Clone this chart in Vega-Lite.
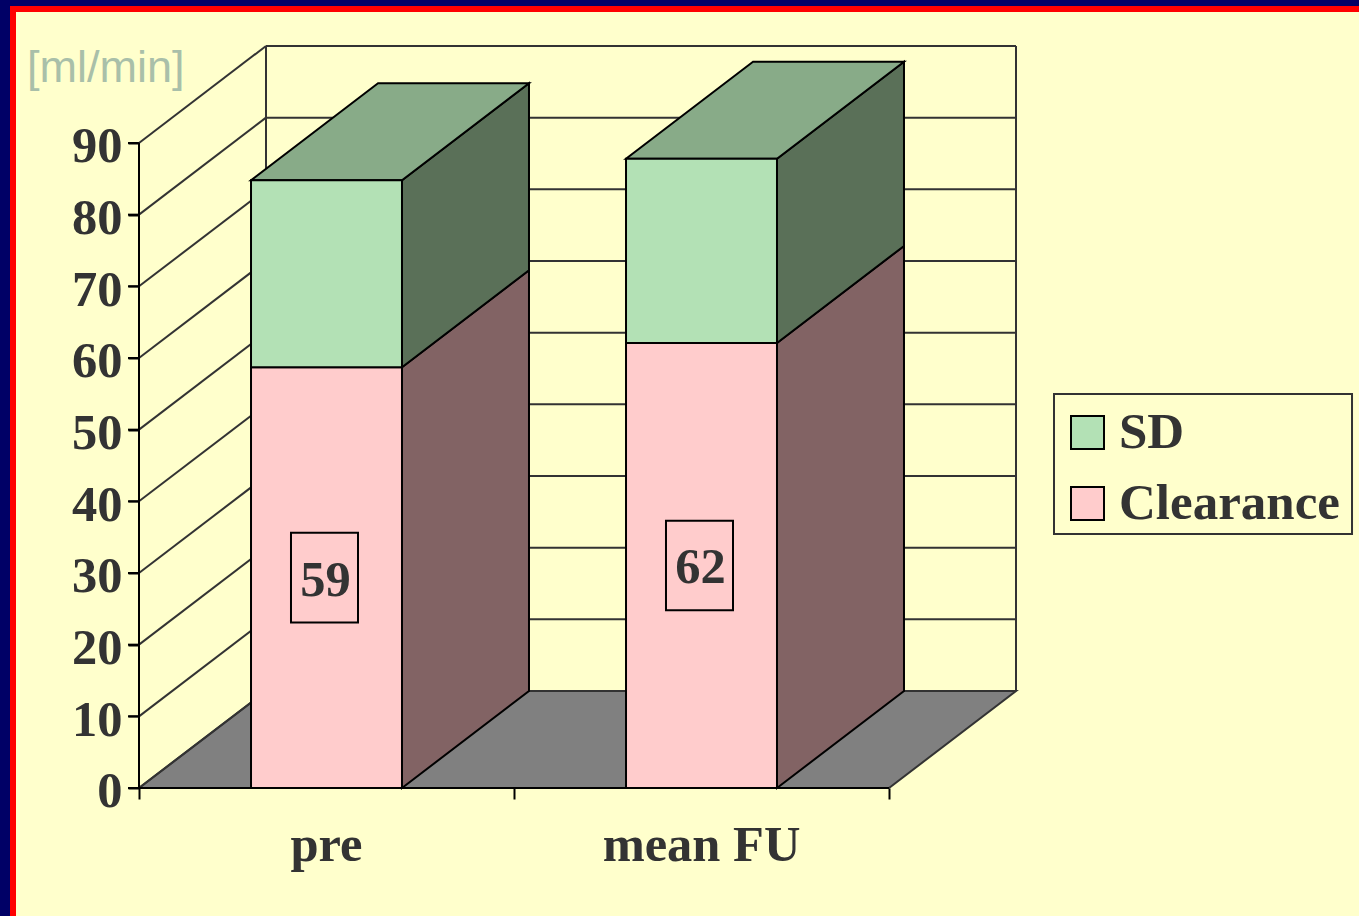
{
"$schema":"https://vega.github.io/schema/vega-lite/v6.json",
"width":1359,"height":916,"padding":0,"autosize":{"type":"none"},
"background":"#FFFFCC",
"config":{"view":{"stroke":null},"font":"Liberation Serif"},
"datasets":{"ticks":[{"tick":0},{"tick":10},{"tick":20},{"tick":30},{"tick":40},{"tick":50},{"tick":60},{"tick":70},{"tick":80},{"tick":90}]},
"data":{"values":[
{"category":"pre","series":"Clearance","value":58.7},
{"category":"pre","series":"SD","value":26.1},
{"category":"mean FU","series":"Clearance","value":62.1},
{"category":"mean FU","series":"SD","value":25.7}
]},
"transform":[
{"stack":"value","groupby":["category"],"sort":[{"field":"series","order":"ascending"}],"as":["low","high"]},
{"calculate":"datum.category==='pre'?0:1","as":"pos"},
{"calculate":"datum.pos+0.2987","as":"xl"},
{"calculate":"datum.pos+0.7013","as":"xr"},
{"calculate":"datum.pos+0.5","as":"xc"},
{"calculate":"0","as":"d0"},
{"calculate":"1","as":"d1"}
],
"layer":[
{"data":{"values":[{"d0":0,"d1":1}]},
 "transform":[{"fold":["d0","d1"],"as":["k","depth"]},
  {"calculate":"datum.depth*13.535","as":"fy"},
  {"calculate":"datum.depth*0.33867","as":"fx0"},
  {"calculate":"2+datum.depth*0.33867","as":"fx1"}],
 "mark":{"type":"area","orient":"horizontal","fill":"#808080","stroke":"#333333","strokeWidth":2},
 "encoding":{
  "y":{"field":"fy","type":"quantitative","title":null,"scale":{"domain":[-17.86,109.95],"nice":false,"zero":false},"axis":{"title":null,"values":[0,10,20,30,40,50,60,70,80,90],"offset":-139,"domain":false,"grid":false,"ticks":true,"zindex":1,"tickSize":11,"tickWidth":2,"tickColor":"#000000","labelPadding":6,"labelFont":"Liberation Serif","labelFontWeight":"bold","labelFontSize":50.5,"labelColor":"#333333","labelOffset":4,"labelBaseline":"middle"}},
  "x":{"field":"fx0","type":"quantitative","title":null,"scale":{"domain":[-0.37067,3.25333],"nice":false,"zero":false},"axis":{"title":null,"values":[0,1,2],"offset":-128,"domain":false,"grid":false,"labels":false,"tickSize":11,"tickWidth":2,"tickColor":"#000000"}},
  "x2":{"field":"fx1"}}},
{"data":{"name":"ticks"},
 "mark":{"type":"rule","stroke":"#000000","strokeWidth":2},
 "encoding":{"x":{"datum":-0.0293,"type":"quantitative"},"x2":{"datum":0},"y":{"field":"tick","type":"quantitative","title":null}}},
{"data":{"name":"ticks"},
 "transform":[{"calculate":"datum.tick+13.535","as":"back"}],
 "mark":{"type":"rule","stroke":"#333333","strokeWidth":2},
 "encoding":{"x":{"datum":0,"type":"quantitative"},"x2":{"datum":0.33867},"y":{"field":"tick","type":"quantitative","title":null},"y2":{"field":"back"}}},
{"data":{"name":"ticks"},
 "transform":[{"calculate":"datum.tick+13.535","as":"back"}],
 "mark":{"type":"rule","stroke":"#333333","strokeWidth":2},
 "encoding":{"x":{"datum":0.33867,"type":"quantitative"},"x2":{"datum":2.33867},"y":{"field":"back","type":"quantitative","title":null}}},
{"data":{"values":[{"edge":0.33867},{"edge":2.33867}]},
 "mark":{"type":"rule","stroke":"#333333","strokeWidth":2},
 "encoding":{"x":{"field":"edge","type":"quantitative","title":null},"y":{"datum":13.535,"type":"quantitative"},"y2":{"datum":103.535}}},
{"data":{"values":[{"k":"axis"}]},
 "mark":{"type":"rule","stroke":"#000000","strokeWidth":2},
 "encoding":{"x":{"datum":0,"type":"quantitative"},"y":{"datum":0,"type":"quantitative"},"y2":{"datum":90}}},
{"data":{"values":[{"k":"axis"}]},
 "mark":{"type":"rule","stroke":"#000000","strokeWidth":2},
 "encoding":{"x":{"datum":0,"type":"quantitative"},"x2":{"datum":2},"y":{"datum":0,"type":"quantitative"}}},
{"transform":[{"fold":["d0","d1"],"as":["k","depth"]},
  {"calculate":"datum.xr+datum.depth*0.33867","as":"sx"},
  {"calculate":"datum.low+datum.depth*13.535","as":"sl"},
  {"calculate":"datum.high+datum.depth*13.535","as":"sh"}],
 "mark":{"type":"area","stroke":"#000000","strokeWidth":2},
 "encoding":{"x":{"field":"sx","type":"quantitative","title":null},"y":{"field":"sl","type":"quantitative","title":null},"y2":{"field":"sh"},
  "detail":[{"field":"category"},{"field":"series"}],
  "fill":{"condition":{"test":"datum.series==='SD'","value":"#5A7058"},"value":"#826364"}}},
{"transform":[{"filter":"datum.series==='SD'"},{"fold":["d0","d1"],"as":["k","depth"]},
  {"calculate":"datum.xl+datum.depth*0.33867","as":"t0"},
  {"calculate":"datum.xr+datum.depth*0.33867","as":"t1"},
  {"calculate":"datum.high+datum.depth*13.535","as":"ty"}],
 "mark":{"type":"area","orient":"horizontal","fill":"#88AB88","stroke":"#000000","strokeWidth":2},
 "encoding":{"y":{"field":"ty","type":"quantitative","title":null},"x":{"field":"t0","type":"quantitative","title":null},"x2":{"field":"t1"},"detail":{"field":"category"}}},
{"mark":{"type":"rect","stroke":"#000000","strokeWidth":2},
 "encoding":{"x":{"field":"xl","type":"quantitative","title":null},"x2":{"field":"xr"},"y":{"field":"low","type":"quantitative","title":null},"y2":{"field":"high"},
  "color":{"field":"series","type":"nominal","scale":{"domain":["SD","Clearance"],"range":["#B3E1B5","#FFCCCC"]},
   "legend":{"title":null,"orient":"none","legendX":1052,"legendY":397,"padding":10,"symbolType":"square","symbolSize":1089,"symbolStrokeColor":"#000000","symbolStrokeWidth":2,"symbolOpacity":1,"labelFont":"Liberation Serif","labelFontWeight":"bold","labelFontSize":51,"labelColor":"#333333","labelOffset":6,"labelLimit":400,"rowPadding":19}}}},
{"transform":[{"filter":"datum.series==='Clearance'"},
  {"calculate":"datum.value/2-6.25","as":"b0"},{"calculate":"datum.value/2+6.25","as":"b1"},
  {"calculate":"datum.xc-0.0947","as":"bx0"},{"calculate":"datum.xc+0.084","as":"bx1"}],
 "mark":{"type":"rect","fill":"#FFCCCC","stroke":"#000000","strokeWidth":2},
 "encoding":{"x":{"field":"bx0","type":"quantitative","title":null},"x2":{"field":"bx1"},"y":{"field":"b0","type":"quantitative","title":null},"y2":{"field":"b1"}}},
{"transform":[{"filter":"datum.series==='Clearance'"},{"calculate":"datum.value/2","as":"mid"}],
 "mark":{"type":"text","font":"Liberation Serif","fontWeight":"bold","fontSize":50.5,"color":"#333333","baseline":"middle","align":"center","dy":3,"dx":-1},
 "encoding":{"x":{"field":"xc","type":"quantitative","title":null},"y":{"field":"mid","type":"quantitative","title":null},"text":{"field":"value","type":"quantitative","format":".0f"}}},
{"transform":[{"filter":"datum.series==='SD'"}],
 "mark":{"type":"text","font":"Liberation Serif","fontWeight":"bold","fontSize":50.5,"color":"#333333","baseline":"middle","align":"center"},
 "encoding":{"x":{"field":"xc","type":"quantitative","title":null},"y":{"datum":-8.1,"type":"quantitative"},"text":{"field":"category"}}},
{"data":{"values":[{"label":"[ml/min]"}]},
 "mark":{"type":"text","font":"Liberation Sans","fontSize":45,"color":"#A9BFA9","baseline":"middle","align":"left"},
 "encoding":{"x":{"datum":-0.2987,"type":"quantitative"},"y":{"datum":100.5,"type":"quantitative"},"text":{"field":"label"}}},
{"data":{"values":[{"k":"legendbox"}]},
 "mark":{"type":"rect","fill":"#FFFFCC","stroke":"#333333","strokeWidth":2},
 "encoding":{"x":{"datum":2.44,"type":"quantitative"},"x2":{"datum":3.2347},"y":{"datum":35.44,"type":"quantitative"},"y2":{"datum":54.98}}},
{"data":{"values":[{"k":"frame"}]},
 "mark":{"type":"rect","fill":"#FF0000"},
 "encoding":{"x":{"datum":-0.37067,"type":"quantitative"},"x2":{"datum":-0.328},"y":{"datum":-17.86,"type":"quantitative"},"y2":{"datum":108.28}}},
{"data":{"values":[{"k":"frame"}]},
 "mark":{"type":"rect","fill":"#FF0000"},
 "encoding":{"x":{"datum":-0.37067,"type":"quantitative"},"x2":{"datum":3.25333},"y":{"datum":108.28,"type":"quantitative"},"y2":{"datum":109.95}}},
{"data":{"values":[{"k":"frame"}]},
 "mark":{"type":"rect","fill":"#000066"},
 "encoding":{"x":{"datum":-0.37067,"type":"quantitative"},"x2":{"datum":-0.344},"y":{"datum":-17.86,"type":"quantitative"},"y2":{"datum":109.95}}},
{"data":{"values":[{"k":"frame"}]},
 "mark":{"type":"rect","fill":"#000066"},
 "encoding":{"x":{"datum":-0.37067,"type":"quantitative"},"x2":{"datum":3.25333},"y":{"datum":109.11,"type":"quantitative"},"y2":{"datum":109.95}}}
]
}
